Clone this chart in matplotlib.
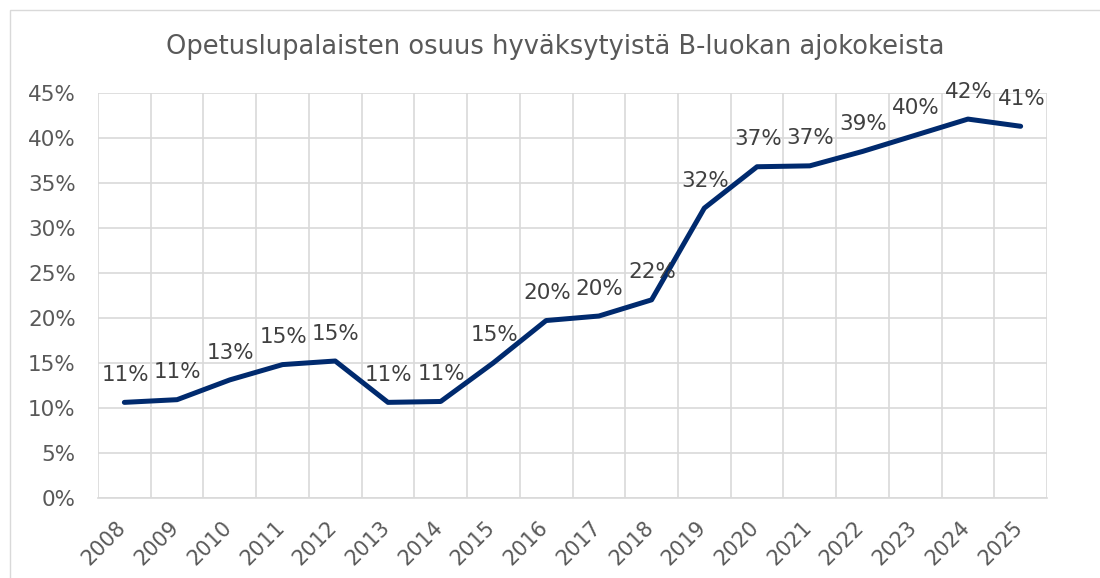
import numpy as np
import matplotlib.pyplot as plt
from matplotlib.patches import Rectangle
from matplotlib.ticker import FixedLocator, PercentFormatter

years = [str(y) for y in range(2008, 2026)]
share = [10.6, 10.9, 13.1, 14.8, 15.2, 10.6, 10.7, 15.0, 19.7, 20.2,
         22.0, 32.2, 36.8, 36.9, 38.5, 40.3, 42.1, 41.3]
labels = ["11%", "11%", "13%", "15%", "15%", "11%", "11%", "15%", "20%", "20%",
          "22%", "32%", "37%", "37%", "39%", "40%", "42%", "41%"]

plt.rcParams['font.family'] = ['DejaVu Sans']

fig = plt.figure(figsize=(11, 5.78), dpi=100)
ax = fig.add_axes([98 / 1100, 1 - 497.7 / 578, (1047 - 98) / 1100, (497.7 - 93) / 578])

# outer chart frame
fig.patches.append(Rectangle((10 / 1100, -0.01), 1.2, 1 - 10 / 578 + 0.01,
                             transform=fig.transFigure, fill=False,
                             edgecolor='#d9d9d9', linewidth=1))

x = np.arange(len(years))
ax.plot(x, share, color='#002a6e', linewidth=3.6, solid_capstyle='round',
        solid_joinstyle='round', zorder=3)

for xi, v, lab in zip(x, share, labels):
    ax.annotate(lab, (xi, v), xytext=(0.5, 12.5), textcoords='offset points',
                ha='center', va='bottom', fontsize=15.5, color='#404040')

ax.set_xlim(-0.5, len(years) - 0.5)
ax.set_ylim(0, 45)
ax.yaxis.set_major_locator(FixedLocator(np.arange(0, 46, 5)))
ax.yaxis.set_major_formatter(PercentFormatter(decimals=0))
ax.set_xticks(x)
ax.set_xticklabels([])
ax.xaxis.set_minor_locator(FixedLocator(np.arange(-0.5, len(years), 1)))

# rotated year labels, ends tucked under each category
for xi, yr in zip(x, years):
    ax.annotate(yr, (xi, 0), xycoords=('data', 'axes fraction'),
                xytext=(-6, -14), textcoords='offset points',
                rotation=45, ha='right', va='top', rotation_mode='anchor',
                fontsize=15, color='#595959')

ax.grid(True, axis='y', which='major', color='#d9d9d9', linewidth=1.2)
ax.grid(True, axis='x', which='minor', color='#d9d9d9', linewidth=1.2)
ax.set_axisbelow(True)
for s in ['top', 'right', 'left']:
    ax.spines[s].set_visible(False)
ax.spines['bottom'].set_color('#d9d9d9')
ax.spines['bottom'].set_linewidth(1.2)

ax.tick_params(axis='both', which='both', length=0, labelsize=15.5, colors='#595959')
ax.tick_params(axis='y', pad=16)

fig.text(555 / 1100, 1 - 47 / 578, "Opetuslupalaisten osuus hyväksytyistä B-luokan ajokokeista",
         ha='center', va='center', fontsize=18.5, color='#595959')

fig.savefig('out.png', dpi=100)
